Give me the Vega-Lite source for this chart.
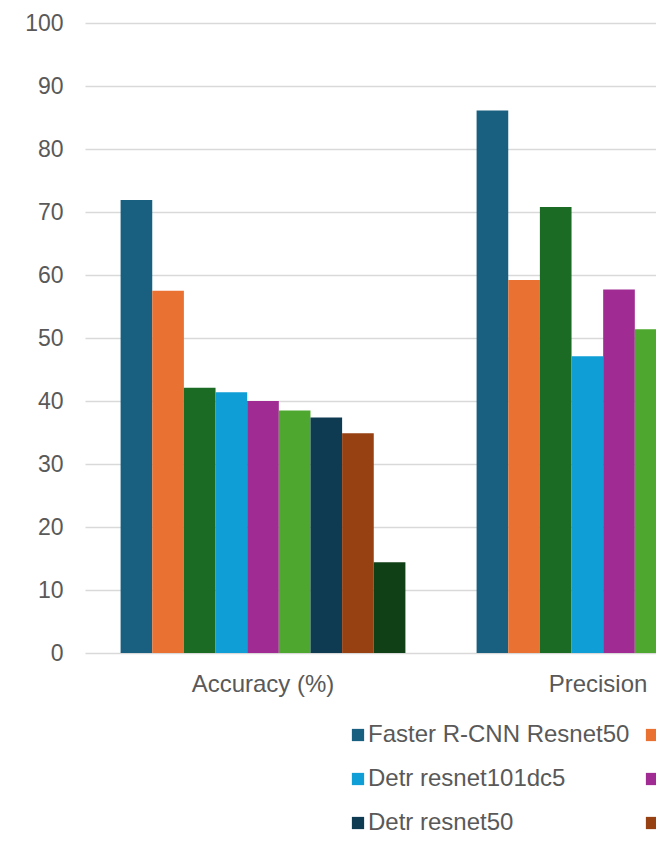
{
  "$schema": "https://vega.github.io/schema/vega-lite/v6.json",
  "autosize": {"type": "none"},
  "width": 571,
  "height": 630,
  "padding": {"left": 85, "top": 23, "right": 0, "bottom": 194},
  "background": "white",
  "data": {
    "values": [
      {"metric": "Accuracy (%)", "model": "Faster R-CNN Resnet50", "value": 71.9},
      {"metric": "Accuracy (%)", "model": "Faster R-CNN Resnet101", "value": 57.5},
      {"metric": "Accuracy (%)", "model": "RetinaNet Resnet50", "value": 42.1},
      {"metric": "Accuracy (%)", "model": "Detr resnet101dc5", "value": 41.4},
      {"metric": "Accuracy (%)", "model": "Detr resnet101", "value": 40.0},
      {"metric": "Accuracy (%)", "model": "Yolos small", "value": 38.5},
      {"metric": "Accuracy (%)", "model": "Detr resnet50", "value": 37.4},
      {"metric": "Accuracy (%)", "model": "Detr resnet50dc5", "value": 34.9},
      {"metric": "Accuracy (%)", "model": "Yolos tiny", "value": 14.4},
      {"metric": "Precision", "model": "Faster R-CNN Resnet50", "value": 86.1},
      {"metric": "Precision", "model": "Faster R-CNN Resnet101", "value": 59.2},
      {"metric": "Precision", "model": "RetinaNet Resnet50", "value": 70.8},
      {"metric": "Precision", "model": "Detr resnet101dc5", "value": 47.1},
      {"metric": "Precision", "model": "Detr resnet101", "value": 57.7},
      {"metric": "Precision", "model": "Yolos small", "value": 51.4},
      {"metric": "Precision", "model": "Detr resnet50", "value": 46.0},
      {"metric": "Precision", "model": "Detr resnet50dc5", "value": 44.0},
      {"metric": "Precision", "model": "Yolos tiny", "value": 30.0}
    ]
  },
  "mark": {"type": "bar"},
  "encoding": {
    "x": {
      "field": "metric",
      "type": "nominal",
      "sort": ["Accuracy (%)", "Precision"],
      "scale": {"range": [0, 712], "paddingInner": 0.2, "paddingOuter": 0.1},
      "axis": {
        "title": null,
        "grid": false,
        "labelAngle": 0,
        "ticks": false,
        "domain": false,
        "labelPadding": 19,
        "labelFont": "Liberation Sans",
        "labelFontSize": 24,
        "labelColor": "#595959",
        "labelOffset": {"condition": {"test": "datum.value == 'Precision'", "value": -21}, "value": 0}
      }
    },
    "xOffset": {
      "field": "model",
      "type": "nominal",
      "sort": ["Faster R-CNN Resnet50", "Faster R-CNN Resnet101", "RetinaNet Resnet50", "Detr resnet101dc5", "Detr resnet101", "Yolos small", "Detr resnet50", "Detr resnet50dc5", "Yolos tiny"],
      "scale": {"paddingInner": 0, "paddingOuter": 0}
    },
    "y": {
      "field": "value",
      "type": "quantitative",
      "scale": {"domain": [0, 100]},
      "axis": {
        "title": null,
        "grid": true,
        "values": [0, 10, 20, 30, 40, 50, 60, 70, 80, 90, 100],
        "ticks": false,
        "domain": false,
        "labelPadding": 22,
        "labelFont": "Liberation Sans",
        "labelFontSize": 23,
        "labelColor": "#595959",
        "gridColor": "#d9d9d9",
        "gridWidth": 1.5
      }
    },
    "color": {
      "field": "model",
      "type": "nominal",
      "scale": {
        "domain": ["Faster R-CNN Resnet50", "Faster R-CNN Resnet101", "RetinaNet Resnet50", "Detr resnet101dc5", "Detr resnet101", "Yolos small", "Detr resnet50", "Detr resnet50dc5", "Yolos tiny"],
        "range": ["#185F80", "#E97132", "#1B6B24", "#0F9ED5", "#A02B93", "#4EA72E", "#0E3A52", "#974012", "#104016"]
      },
      "legend": {
        "title": null,
        "orient": "none",
        "direction": "horizontal",
        "legendX": 261,
        "legendY": 700,
        "columns": 3,
        "columnPadding": 10,
        "rowPadding": 20,
        "padding": 0,
        "symbolType": "square",
        "symbolSize": 150,
        "symbolStrokeWidth": 0,
        "labelOffset": -2,
        "labelFont": "Liberation Sans",
        "labelFontSize": 24,
        "labelColor": "#595959",
        "labelLimit": 400
      }
    }
  },
  "config": {
    "view": {"stroke": null}
  }
}
